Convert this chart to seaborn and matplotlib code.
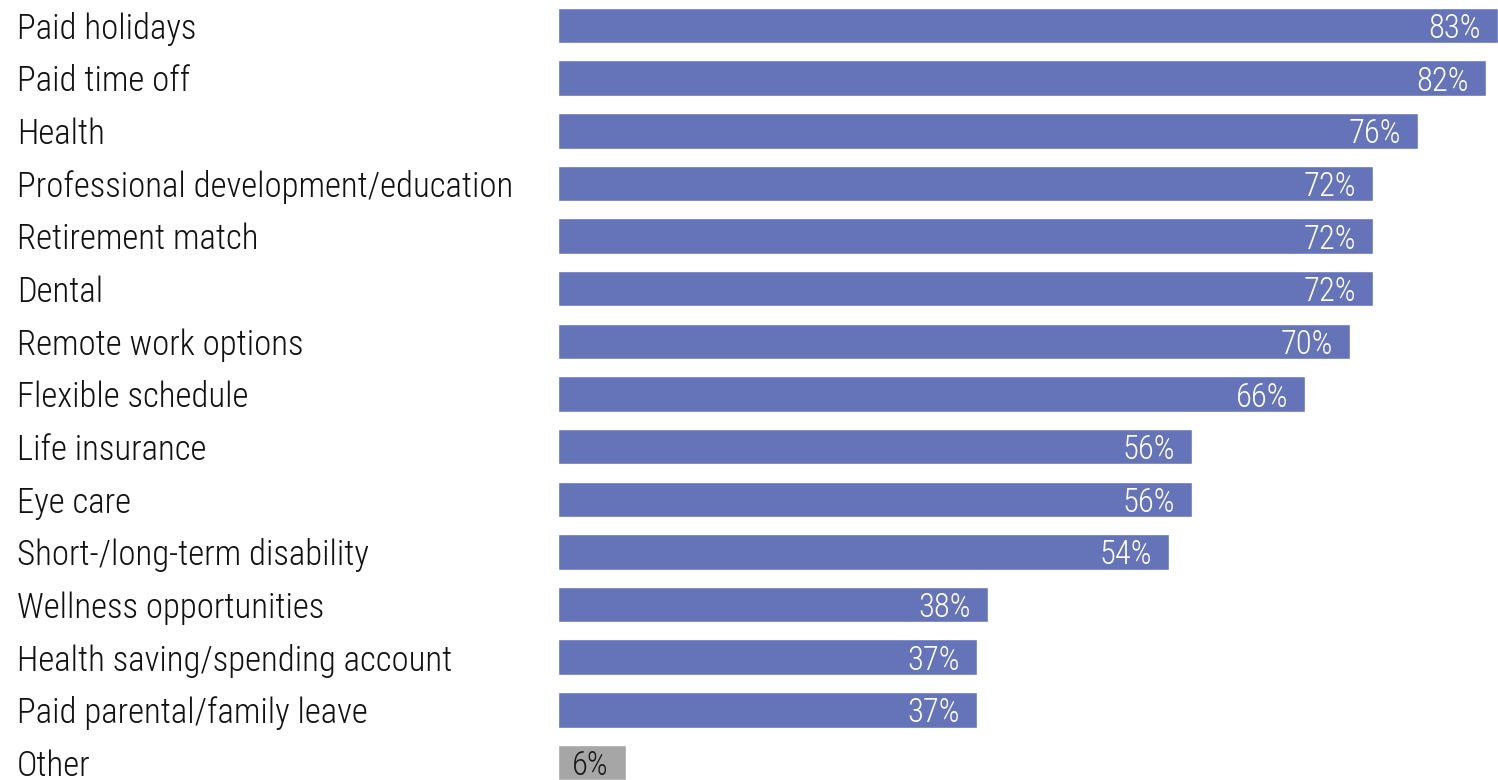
import matplotlib
matplotlib.use("Agg")
import matplotlib.pyplot as plt
from matplotlib import font_manager
import seaborn as sns
import pandas as pd

categories = [
    "Paid holidays", "Paid time off", "Health",
    "Professional development/education", "Retirement match", "Dental",
    "Remote work options", "Flexible schedule", "Life insurance", "Eye care",
    "Short-/long-term disability", "Wellness opportunities",
    "Health saving/spending account", "Paid parental/family leave", "Other",
]
values = [83, 82, 76, 72, 72, 72, 70, 66, 56, 56, 54, 38, 37, 37, 6]
bar_colors = ["#6574b8"] * 14 + ["#a6a6a6"]
label_colors = ["white"] * 14 + ["#1a1a1a"]

sns.set_theme(style="white")
installed = {f.name for f in font_manager.fontManager.ttflist}
family = [f for f in ["Roboto Condensed", "Liberation Sans Narrow", "Roboto"] if f in installed][:1] + ["DejaVu Sans"]
plt.rcParams["font.family"] = family
plt.rcParams["font.weight"] = "light"

df = pd.DataFrame({"benefit": categories, "share": values})

DPI = 100
W, H = 1498, 780
fig = plt.figure(figsize=(W / DPI, H / DPI), dpi=DPI)
left_px = 558
ax = fig.add_axes([left_px / W, 0, 1 - left_px / W, 1])

sns.barplot(data=df, y="benefit", x="share", hue="benefit", palette=bar_colors,
            legend=False, orient="h", width=0.675, ax=ax, saturation=1)

px_per_unit = 11.32
ax.set_xlim(0, (W - left_px) / px_per_unit)
pitch = 52.64
ax.set_ylim(14 + (H - 762.5) / pitch, -25.5 / pitch)

for s in ax.spines.values():
    s.set_visible(False)
ax.set_xticks([])
ax.set_xlabel("")
ax.set_ylabel("")
ax.tick_params(axis="y", length=0, pad=(left_px - 17) * 72 / DPI, labelsize=25,
               labelcolor="#111111")
for t in ax.get_yticklabels():
    t.set_ha("left")
    t.set_va("center_baseline")
    t.set_fontweight("light")

offset = 17 / px_per_unit
for i, (v, c) in enumerate(zip(values, label_colors)):
    ax.text(v - offset, i, f"{v}%", ha="right", va="center_baseline",
            color=c, fontsize=23.5, fontweight="light")

fig.savefig("out.png", dpi=DPI)
